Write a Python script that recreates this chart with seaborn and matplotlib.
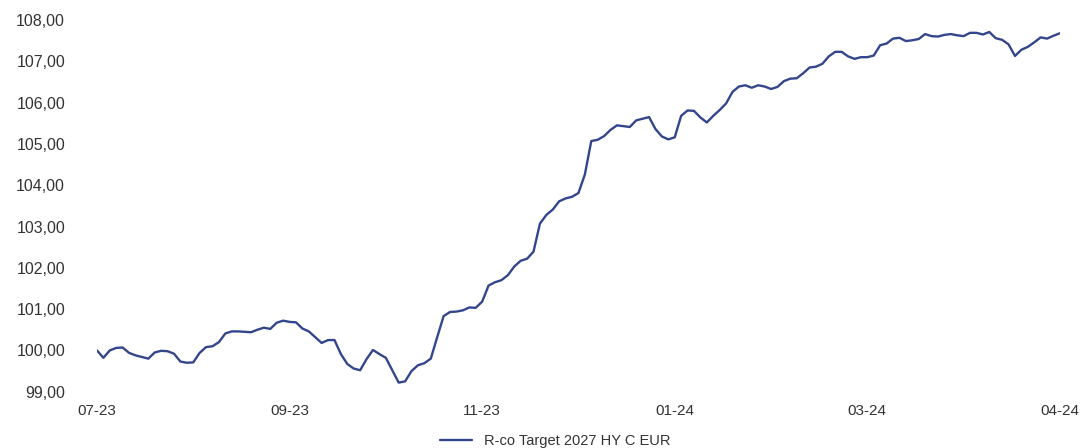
import numpy as np
import pandas as pd
import matplotlib
matplotlib.use("Agg")
import matplotlib.pyplot as plt
from matplotlib.ticker import FuncFormatter, FixedLocator
import seaborn as sns

# === Data (one value every ~1.5 trading days) ===
fund_name = "R-co Target 2027 HY C EUR"
tick_labels = ["07-23", "09-23", "11-23", "01-24", "03-24", "04-24"]
tick_every = 30

nav = [
    100.00, 99.82, 100.00, 100.06, 100.07, 99.94, 99.88, 99.84, 99.80, 99.95,
    99.99, 99.98, 99.92, 99.73, 99.70, 99.71, 99.94, 100.08, 100.10, 100.20,
    100.41, 100.46, 100.46, 100.45, 100.44, 100.50, 100.55, 100.52, 100.67, 100.72,
    100.69, 100.68, 100.53, 100.46, 100.32, 100.18, 100.25, 100.25, 99.91, 99.67,
    99.56, 99.52, 99.79, 100.01, 99.91, 99.82, 99.52, 99.22, 99.25, 99.50,
    99.64, 99.69, 99.80, 100.32, 100.83, 100.93, 100.94, 100.97, 101.04, 101.03,
    101.18, 101.57, 101.65, 101.70, 101.82, 102.03, 102.17, 102.22, 102.39, 103.07,
    103.28, 103.41, 103.61, 103.68, 103.72, 103.81, 104.26, 105.07, 105.10, 105.19,
    105.34, 105.45, 105.43, 105.41, 105.57, 105.61, 105.65, 105.36, 105.18, 105.11,
    105.16, 105.68, 105.81, 105.80, 105.64, 105.52, 105.68, 105.82, 105.98, 106.26,
    106.39, 106.42, 106.36, 106.42, 106.39, 106.33, 106.38, 106.52, 106.58, 106.59,
    106.71, 106.85, 106.87, 106.94, 107.12, 107.23, 107.23, 107.12, 107.06, 107.10,
    107.10, 107.14, 107.39, 107.43, 107.55, 107.57, 107.49, 107.51, 107.54, 107.66,
    107.61, 107.60, 107.64, 107.66, 107.63, 107.61, 107.69, 107.69, 107.65, 107.71,
    107.56, 107.52, 107.41, 107.13, 107.28, 107.35, 107.46, 107.58, 107.55, 107.62,
    107.68,
]

df = pd.DataFrame({"day": np.arange(len(nav)), "nav": nav})

sns.set_style("white")
plt.rcParams["font.family"] = ["Liberation Sans", "DejaVu Sans"]

fig = plt.figure(figsize=(10.82, 4.48), dpi=100)
ax = fig.add_axes([0.0896, 0.1257, 0.890, 0.8296])

sns.lineplot(data=df, x="day", y="nav", ax=ax, color="#34468b", linewidth=1.7,
             label=fund_name, legend=False)

ax.set_xlim(0, len(nav) - 1)
ax.set_ylim(99, 108)
ax.set_yticks(np.arange(99, 109, 1))
ax.yaxis.set_major_formatter(FuncFormatter(lambda v, _: f"{v:.2f}".replace(".", ",")))
ax.xaxis.set_major_locator(FixedLocator(np.arange(0, len(nav), tick_every)))
ax.set_xticklabels(tick_labels)
ax.set_xlabel("")
ax.set_ylabel("")
ax.tick_params(axis="y", length=0, pad=23, labelsize=11.5, colors="#333333")
ax.tick_params(axis="x", length=0, pad=9, labelsize=11, colors="#333333")
for s in ax.spines.values():
    s.set_visible(False)
ax.grid(False)

handles, labels = ax.get_legend_handles_labels()
fig.legend(handles, labels, loc="center", bbox_to_anchor=(0.513, 0.016),
           frameon=False, fontsize=10.5, handlelength=2.2, labelcolor="#333333")

fig.savefig("out.png", dpi=100)
